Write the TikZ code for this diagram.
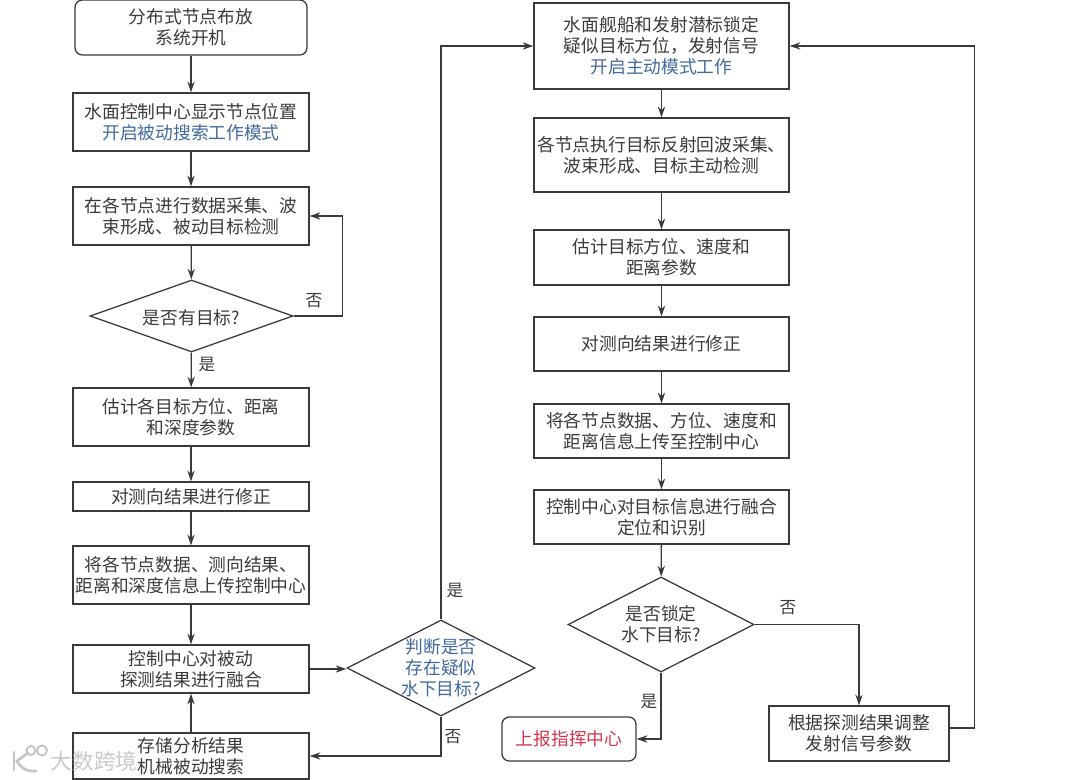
\documentclass[tikz,border=0pt]{standalone}
\usepackage{fontspec}
\setmainfont{Noto Sans CJK SC}
\usetikzlibrary{shapes.geometric,arrows.meta,calc}
\definecolor{ink}{HTML}{3A3A3A}
\definecolor{bluetxt}{HTML}{41699F}
\definecolor{redtxt}{HTML}{D8344F}
\definecolor{wm}{HTML}{C4C4C4}
\tikzset{
  px/.style={x=0.75pt,y=-0.75pt},
  base/.style={draw=ink,line width=0.95pt,inner sep=0pt,align=center,text=ink,
    font=\fontsize{13.3}{15.75}\selectfont},
  boxw/.style={base,minimum width=177pt},
  rbox/.style={base,minimum width=191.25pt},
  round/.style={rounded corners=5.5pt},
  dia/.style={draw=ink,line width=0.95pt,diamond,inner sep=0pt},
  dtext/.style={inner sep=0pt,align=center,text=ink,font=\fontsize{13.3}{15.75}\selectfont},
  lbl/.style={inner sep=0pt,text=ink,font=\fontsize{12.5}{15}\selectfont},
  arr/.style={draw=ink,line width=0.95pt,-{Stealth[length=8pt,width=5.4pt]}},
  wmtext/.style={inner sep=0pt,text=wm,opacity=0.9,font=\fontsize{16.2}{18}\selectfont}
}
\begin{document}
\begin{tikzpicture}[px]
\useasboundingbox (0,0) rectangle (1080,780);
% left column
\node[boxw,round,minimum width=174pt,minimum height=41.25pt] (start) at (191,27.5) {分布式节点布放\\系统开机};
\node[boxw,minimum height=43.5pt] (b2) at (191,122) {水面控制中心显示节点位置\\{\color{bluetxt}开启被动搜索工作模式}};
\node[boxw,minimum height=43.5pt] (b3) at (191,216) {在各节点进行数据采集、波\\束形成、被动目标检测};
\node[dia,aspect=2.82,minimum width=152.25pt,minimum height=54pt] (d1) at (191.5,316) {};
\node[dtext] (d1t) at (191.5,318) {是否有目标?};
\node[boxw,minimum height=43.5pt] (b4) at (191,417) {估计各目标方位、距离\\和深度参数};
\node[boxw,minimum height=21.75pt] (b5) at (191,496.5) {对测向结果进行修正};
\node[boxw,minimum height=43.5pt] (b6) at (191,575) {将各节点数据、测向结果、\\距离和深度信息上传控制中心};
\node[boxw,minimum height=36pt] (b7) at (191,669) {控制中心对被动\\探测结果进行融合};
\node[boxw,minimum height=34.5pt] (b8) at (191,756) {存储分析结果\\机械被动搜索};
\node[dia,aspect=1.96,minimum width=141pt,minimum height=72pt] (d2) at (441,668) {};
\node[dtext] (d2t) at (441,668) {{\color{bluetxt}判断是否}\\{\color{bluetxt}存在疑似}\\{\color{bluetxt}水下目标?}};
% right column
\node[rbox,minimum height=64.5pt] (r1) at (661.5,46) {水面舰船和发射潜标锁定\\疑似目标方位，发射信号\\{\color{bluetxt}开启主动模式工作}};
\node[rbox,minimum height=55.5pt] (r2) at (661.5,155) {各节点执行目标反射回波采集、\\波束形成、目标主动检测};
\node[rbox,minimum height=41.25pt] (r3) at (661.5,257.5) {估计目标方位、速度和\\距离参数};
\node[rbox,minimum height=40.5pt] (r4) at (661.5,344) {对测向结果进行修正};
\node[rbox,minimum height=40.5pt] (r5) at (661.5,431) {将各节点数据、方位、速度和\\距离信息上传至控制中心};
\node[rbox,minimum height=40.5pt] (r6) at (661.5,517) {控制中心对目标信息进行融合\\定位和识别};
\node[dia,aspect=1.97,minimum width=139.5pt,minimum height=71.25pt] (d3) at (661,624.5) {};
\node[dtext] (d3t) at (661,624.5) {是否锁定\\水下目标?};
\node[base,round,minimum width=100.5pt,minimum height=33pt,text=redtxt] (rep) at (569,739) {上报指挥中心};
\node[base,minimum width=135pt,minimum height=41.25pt] (r7) at (859,733.5) {根据探测结果调整\\发射信号参数};
% connectors
\draw[arr] (start) -- (b2);
\draw[arr] (b2) -- (b3);
\draw[arr] (b3) -- (d1);
\draw[arr] (d1) -- (b4);
\draw[arr] (b4) -- (b5);
\draw[arr] (b5) -- (b6);
\draw[arr] (b6) -- (b7);
\draw[arr] (b8) -- (b7);
\draw[arr] (b7.east) -- (b7.east -| d2.west);
\draw[arr] (d1.east) -- ++(49,0) |- (b3.east);
\draw[arr] (d2.north) |- (r1.west);
\draw[arr] (d2.south) |- (b8.east);
\draw[arr] (r1) -- (r2);
\draw[arr] (r2) -- (r3);
\draw[arr] (r3) -- (r4);
\draw[arr] (r4) -- (r5);
\draw[arr] (r5) -- (r6);
\draw[arr] (r6) -- (d3);
\draw[arr] (d3.south) |- (rep.east);
\draw[arr] (d3.east) -| (r7.north);
\coordinate (fb) at ($(r7.east)+(0,-5.5)$);
\draw[arr] (fb) -- ++(25,0) |- (r1.east);
% labels
\node[lbl] (l1) at (314,301) {否};
\node[lbl] (l2) at (207,365) {是};
\node[lbl] (l3) at (455,591) {是};
\node[lbl] (l4) at (453,737) {否};
\node[lbl] (l5) at (788,608) {否};
\node[lbl] (l6) at (649,702) {是};
% watermark
\draw[wm,line width=2pt,line cap=round] (14,752) -- (14,770);
\draw[wm,line width=2pt,line cap=round] (28,753) .. controls (22,757) and (20,759) .. (17,761) .. controls (20,767) and (26,772) .. (36,771);
\draw[wm,line width=1.4pt] (31,750.5) circle (4.5) (42,750.5) circle (5);
\node[wmtext] (wmk) at (94,761) {大数跨境};
\end{tikzpicture}
\end{document}
